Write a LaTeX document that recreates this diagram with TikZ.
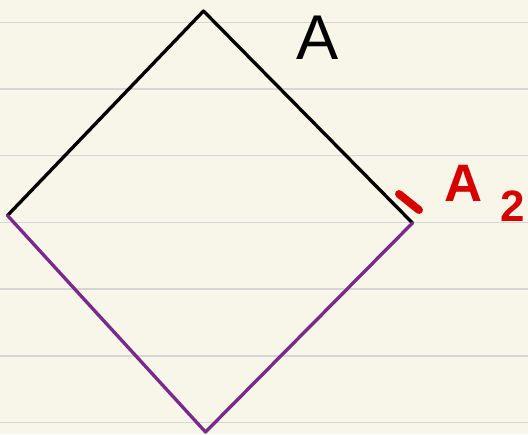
\documentclass[tikz,border=0pt]{standalone}
\usepackage{fontspec}
\setsansfont{Liberation Sans}
\usetikzlibrary{positioning}
\definecolor{paper}{HTML}{F8F6E8}
\definecolor{ruled}{HTML}{D6D6D4}
\definecolor{penpurple}{HTML}{7A2A8C}
\definecolor{penred}{HTML}{D60000}

\begin{document}
\begin{tikzpicture}[x=0.02cm, y=-0.02cm, line cap=round, line join=round, font=\sffamily,
  ink/.style={line width=1.9pt},
  bigtext/.style={font=\sffamily\fontsize{36}{36}\selectfont},
  redtext/.style={text=penred, font=\sffamily\bfseries\fontsize{30}{30}\selectfont}]
  % Papír s linkami
  \fill[paper] (0,0) rectangle (528,434);
  \useasboundingbox (0,0) rectangle (528,434);
  \foreach \y in {22.3, 89, ..., 430}
    \draw[ruled, line width=0.9pt] (0,\y) -- (528,\y);

  % Kosočtverec
  \coordinate (top) at (203.5,11);
  \coordinate (left) at (7.5,215.5);
  \coordinate (right) at (412.5,223);
  \coordinate (bottom) at (205.5,432);
  \draw[ink] (left) -- (top) -- (right);
  \draw[ink, penpurple] (left) -- (bottom) -- (right);

  % Popisky
  \node[bigtext] (lblA) at (318,38) {A};
  \draw[penred, line width=4.5pt] (399,194) -- (419,210); % značka
  \node[redtext] (lblAtwo) at (464,183) {A};
  \node[redtext, font=\sffamily\bfseries\fontsize{25}{25}\selectfont] (lblsub) at (513,206) {2};
\end{tikzpicture}
\end{document}
